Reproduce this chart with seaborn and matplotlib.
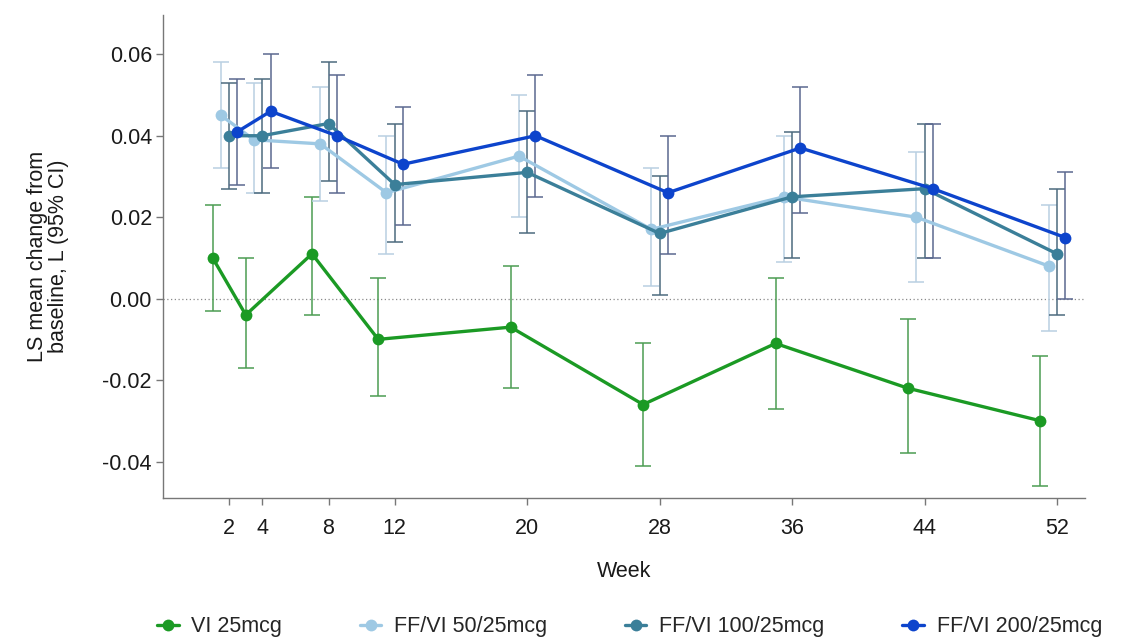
import pandas as pd
import matplotlib
matplotlib.use("Agg")
import matplotlib.pyplot as plt
import seaborn as sns

# === DATA ===
weeks = [2, 4, 8, 12, 20, 28, 36, 44, 52]
groups = ["VI 25mcg", "FF/VI 50/25mcg", "FF/VI 100/25mcg", "FF/VI 200/25mcg"]

vi25_mean = [0.010, -0.004, 0.011, -0.010, -0.007, -0.026, -0.011, -0.022, -0.030]
vi25_low = [-0.003, -0.017, -0.004, -0.024, -0.022, -0.041, -0.027, -0.038, -0.046]
vi25_high = [0.023, 0.010, 0.025, 0.005, 0.008, -0.011, 0.005, -0.005, -0.014]

ff50_mean = [0.045, 0.039, 0.038, 0.026, 0.035, 0.017, 0.025, 0.020, 0.008]
ff50_low = [0.032, 0.026, 0.024, 0.011, 0.020, 0.003, 0.009, 0.004, -0.008]
ff50_high = [0.058, 0.053, 0.052, 0.040, 0.050, 0.032, 0.040, 0.036, 0.023]

ff100_mean = [0.040, 0.040, 0.043, 0.028, 0.031, 0.016, 0.025, 0.027, 0.011]
ff100_low = [0.027, 0.026, 0.029, 0.014, 0.016, 0.001, 0.010, 0.010, -0.004]
ff100_high = [0.053, 0.054, 0.058, 0.043, 0.046, 0.030, 0.041, 0.043, 0.027]

ff200_mean = [0.041, 0.046, 0.040, 0.033, 0.040, 0.026, 0.037, 0.027, 0.015]
ff200_low = [0.028, 0.032, 0.026, 0.018, 0.025, 0.011, 0.021, 0.010, 0.000]
ff200_high = [0.054, 0.060, 0.055, 0.047, 0.055, 0.040, 0.052, 0.043, 0.031]

# styling
line_colors = ["#1b9a24", "#9ec9e4", "#3b7f99", "#0d44cc"]
err_colors = ["#4c9c52", "#b9d0e2", "#4d6b7e", "#5b6890"]
dodge = [-1.0, -0.5, 0.0, 0.5]

means = [vi25_mean, ff50_mean, ff100_mean, ff200_mean]
lows = [vi25_low, ff50_low, ff100_low, ff200_low]
highs = [vi25_high, ff50_high, ff100_high, ff200_high]

rows = []
for g, off, m, lo, hi in zip(groups, dodge, means, lows, highs):
    for w, mv, lv, hv in zip(weeks, m, lo, hi):
        rows.append({"Group": g, "Week": w, "pos": w + off, "mean": mv, "low": lv, "high": hv})
df = pd.DataFrame(rows)

sns.set_style("ticks")
plt.rcParams["font.family"] = ["Liberation Sans", "DejaVu Sans"]

fig = plt.figure(figsize=(11.28, 6.42), dpi=100)
ax = fig.add_axes([0.1445, 0.224, 0.8175, 0.753])

# zero reference line
ax.axhline(0, color="#8a8a8a", linestyle=(0, (1, 2)), linewidth=0.9, zorder=0)

# confidence intervals
for g, ec in zip(groups, err_colors):
    sub = df[df["Group"] == g]
    ax.errorbar(sub["pos"], sub["mean"],
                yerr=[sub["mean"] - sub["low"], sub["high"] - sub["mean"]],
                fmt="none", ecolor=ec, elinewidth=1.1, capsize=6, capthick=1.1, zorder=1)

sns.lineplot(data=df, x="pos", y="mean", hue="Group", hue_order=groups,
             palette=line_colors, marker="o", markersize=8.5, markeredgewidth=0,
             linewidth=2.4, errorbar=None, sort=True, ax=ax, zorder=3)

ax.set_xlim(-2.0, 53.7)
ax.set_ylim(-0.049, 0.0697)
ax.set_xticks(weeks)
ax.set_yticks([-0.04, -0.02, 0.0, 0.02, 0.04, 0.06])
ax.set_yticklabels(["-0.04", "-0.02", "0.00", "0.02", "0.04", "0.06"])

for side in ["top", "right"]:
    ax.spines[side].set_visible(False)
for side in ["left", "bottom"]:
    ax.spines[side].set_color("#777777")
    ax.spines[side].set_linewidth(1.0)
ax.tick_params(axis="both", colors="#777777", labelcolor="#1a1a1a", labelsize=15.5,
               length=5, width=1.0)
ax.tick_params(axis="x", pad=9)
ax.tick_params(axis="y", pad=3)

ax.set_xlabel("Week", fontsize=15.5, color="#1a1a1a", labelpad=16)
ax.set_ylabel("LS mean change from\nbaseline, L (95% CI)", fontsize=15.5, color="#1a1a1a",
              linespacing=1.0)
ax.yaxis.set_label_coords(-0.102, 0.5)

ax.get_legend().remove()
handles, labels = ax.get_legend_handles_labels()
fig.legend(handles, labels, loc="center", bbox_to_anchor=(0.558, 0.024), ncol=4,
           frameon=False, fontsize=15.5, handlelength=1.0, handletextpad=0.6,
           columnspacing=3.6)

fig.savefig("out.png", dpi=100)
